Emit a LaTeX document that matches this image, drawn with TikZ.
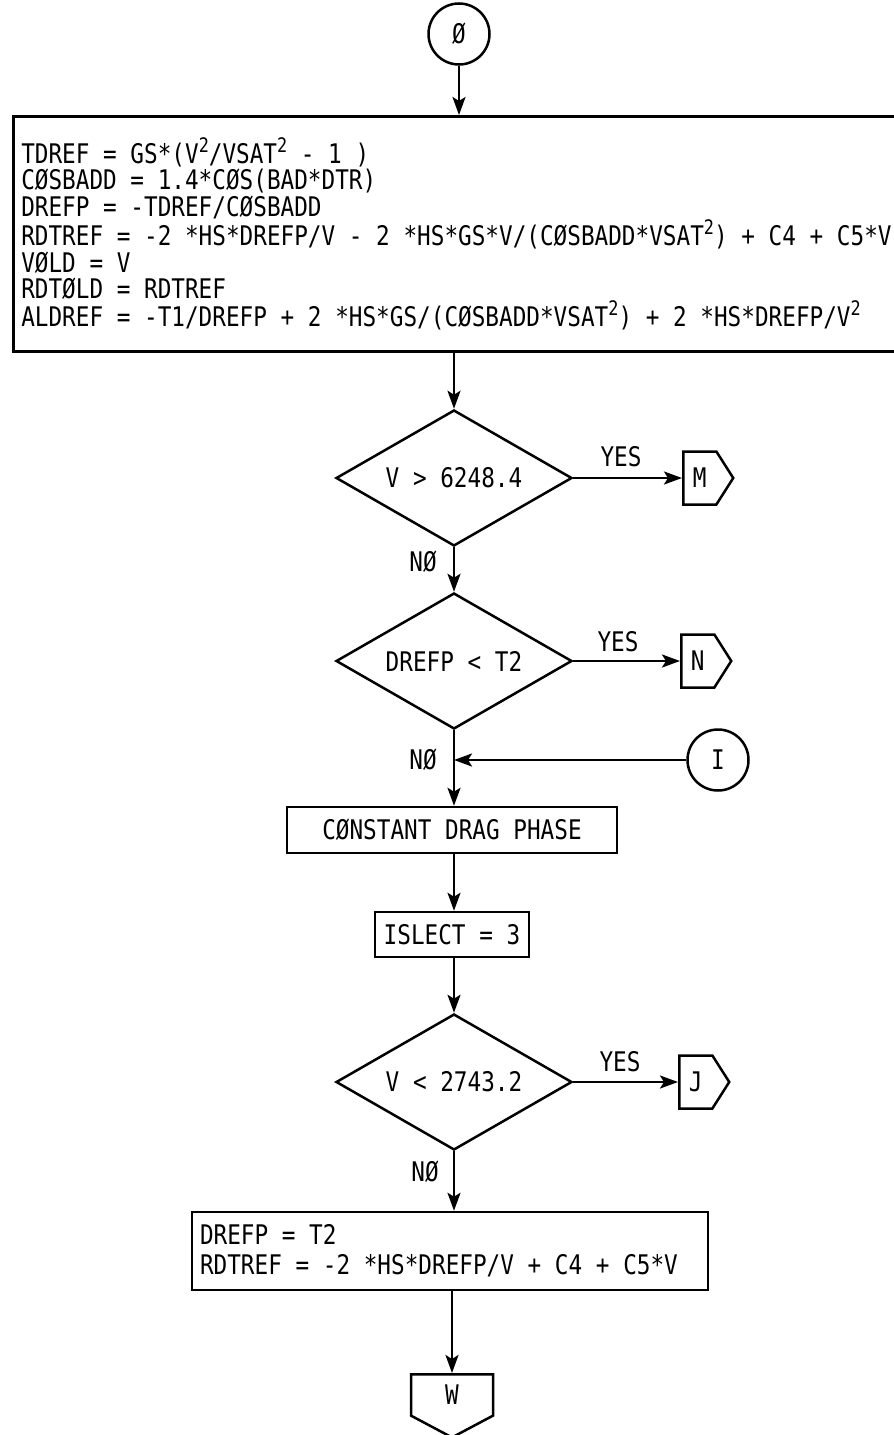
\documentclass[tikz,border=0pt]{standalone}
\usepackage{fontspec}
\newfontfamily\chartfont[FakeStretch=0.84]{DejaVu Sans Mono}
\usetikzlibrary{shapes.geometric,shapes.symbols,arrows.meta}
\newcommand{\supsq}{\raisebox{0.42em}{\fontsize{20}{20}\selectfont 2}}

\begin{document}
\begin{tikzpicture}[x=1pt,y=1pt,yscale=-1,
  every node/.style={font=\chartfont\fontsize{27}{26.2}\selectfont},
  flow/.style={line width=2.5pt},
  arr/.style={flow,-{Stealth[length=18pt,width=13pt,inset=4pt]}},
  procbox/.style={draw,flow,rectangle,inner sep=0pt},
  decision/.style={draw,flow,diamond,aspect=1.7,minimum width=236pt,minimum height=136pt,inner sep=0pt},
  connector/.style={draw,flow,circle,minimum size=61pt,inner sep=0pt},
  offpage/.style={draw,flow,signal,signal pointer angle=115,inner sep=0pt,minimum width=50pt,minimum height=53pt,anchor=west}]
    \useasboundingbox (0,0) rectangle (894,1435);

    %Shape: Circle [entry]
    \node[connector] (entry) at (459,34) {Ø};
    %Shape: Rectangle [init]
    \node[procbox,anchor=north west,text width=900pt,align=flush left,inner xsep=8pt,minimum height=235pt] (init) at (12,115)
      {TDREF = GS*(V\supsq/VSAT\supsq{} - 1 )\\
       CØSBADD = 1.4*CØS(BAD*DTR)\\
       DREFP = -TDREF/CØSBADD\\
       RDTREF = -2 *HS*DREFP/V - 2 *HS*GS*V/(CØSBADD*VSAT\supsq) + C4 + C5*V\\
       VØLD = V\\
       RDTØLD = RDTREF\\
       ALDREF = -T1/DREFP + 2 *HS*GS/(CØSBADD*VSAT\supsq) + 2 *HS*DREFP/V\supsq};
    %Shape: Diamond [d1]
    \node[decision] (d1) at (454,478) {V > 6248.4};
    %Shape: Signal [M]
    \node[offpage] (M) at (682,478) {M};
    %Shape: Diamond [d2]
    \node[decision] (d2) at (454,661) {DREFP < T2};
    %Shape: Signal [N]
    \node[offpage] (N) at (680,661) {N};
    %Shape: Circle [I]
    \node[connector] (I) at (718,760) {I};
    \coordinate (merge) at (454,760);
    %Shape: Rectangle [drag]
    \node[procbox,minimum width=330pt,minimum height=46pt] (drag) at (452,830) {CØNSTANT DRAG PHASE};
    %Shape: Rectangle [islect]
    \node[procbox,minimum width=154pt,minimum height=45pt] (islect) at (452,934.5) {ISLECT = 3};
    %Shape: Diamond [d3]
    \node[decision] (d3) at (454,1082) {V < 2743.2};
    %Shape: Signal [J]
    \node[offpage] (J) at (678,1082) {J};
    %Shape: Rectangle [final]
    \node[procbox,text width=500pt,align=flush left,inner xsep=8pt,minimum height=78pt,font=\chartfont\fontsize{27}{30}\selectfont] (final) at (450,1251)
      {DREFP = T2\\
       RDTREF = -2 *HS*DREFP/V + C4 + C5*V};
    %Shape: Signal [W]
    \node[offpage,signal to=south,signal pointer angle=124,minimum width=82pt,minimum height=45pt,anchor=north] (W) at (452,1373) {W};

    %Straight Lines
    \draw[arr] (entry) -- (entry |- init.north);
    \draw[arr] (init.south -| d1.north) -- (d1.north);
    \draw[arr] (d1.east) -- (M.west);
    \draw[arr] (d1.south) -- (d2.north);
    \draw[arr] (d2.east) -- (N.west);
    \draw[arr] (d2.south) -- (d2.south |- drag.north);
    \draw[arr] (I) -- (merge);
    \draw[arr] (drag.south -| d2.south) -- (islect.north -| d2.south);
    \draw[arr] (islect.south -| d3.north) -- (d3.north);
    \draw[arr] (d3.east) -- (J.west);
    \draw[arr] (d3.south) -- (d3.south |- final.north);
    \draw[arr] (final.south -| W.north) -- (W.north);

    % Text Node
    \node (yes1) at (621,457) {YES};
    % Text Node
    \node (no1) at (423,562) {NØ};
    % Text Node
    \node (yes2) at (618,642) {YES};
    % Text Node
    \node (no2) at (423,760) {NØ};
    % Text Node
    \node (yes3) at (620,1062) {YES};
    % Text Node
    \node (no3) at (425,1172) {NØ};
\end{tikzpicture}
\end{document}
